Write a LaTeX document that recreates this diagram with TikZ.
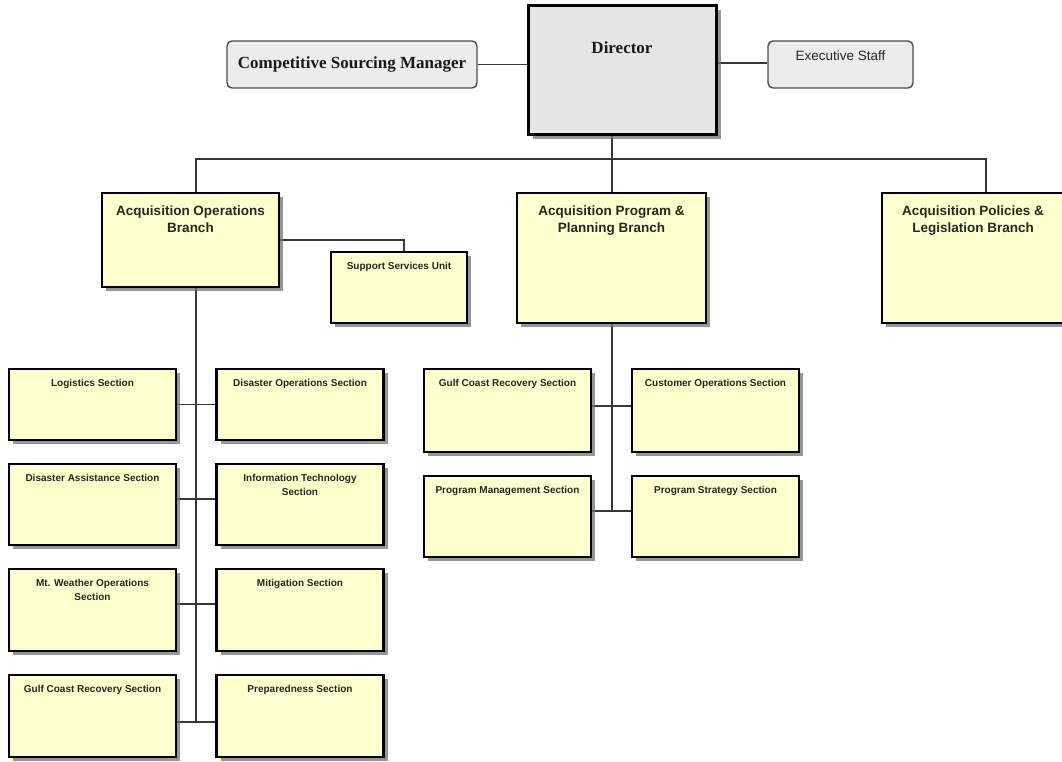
\documentclass[tikz,border=0pt]{standalone}
\usepackage{fontspec}
\newfontfamily\arialfont{Liberation Sans}
\newfontfamily\timesfont{Liberation Serif}
\usetikzlibrary{shadows,backgrounds}
\definecolor{boxyellow}{RGB}{255,255,206}
\definecolor{boxgrey}{RGB}{236,236,236}
\definecolor{dirgrey}{RGB}{230,230,230}
\definecolor{linegrey}{RGB}{55,55,55}
\tikzset{
  ybox/.style={draw=black, line width=2.6pt, fill=boxyellow, rectangle, inner sep=0pt,
    drop shadow={shadow xshift=4pt, shadow yshift=-4pt, fill=black!55, opacity=0.75}},
  dbox/.style={draw=black, line width=3pt, fill=dirgrey, rectangle, inner sep=0pt,
    drop shadow={shadow xshift=5pt, shadow yshift=-5pt, fill=black!55, opacity=0.75}},
  gbox/.style={draw=black!70, line width=1.4pt, fill=boxgrey, rounded corners=5pt, inner sep=0pt},
  conn/.style={draw=linegrey, line width=1.3pt},
  sect/.style={font=\arialfont\bfseries\fontsize{10}{14.5}\selectfont, align=center, anchor=north, inner sep=0pt, text=black!85, yshift=-11pt},
  brch/.style={font=\arialfont\bfseries\fontsize{13.5}{17}\selectfont, align=center, anchor=north, inner sep=0pt, text=black!85, yshift=-14pt},
  sbox/.style={ybox, minimum width=167pt},
}
\begin{document}
\begin{tikzpicture}[x=1pt,y=-1pt]
\useasboundingbox (0,0) rectangle (1062,761);

% top level
\node[dbox, minimum width=188pt, minimum height=129pt,
  label={[font=\timesfont\bfseries\fontsize{17}{20}\selectfont, anchor=north, inner sep=0pt, yshift=-38pt, text=black!90]north:Director}] (dir) at (622,69.5) {};
\node[gbox, minimum width=250pt, minimum height=47pt, text=black!90,
  font=\timesfont\bfseries\fontsize{17}{20}\selectfont] (csm) at (352,64.5) {Competitive Sourcing Manager};
\node[gbox, minimum width=145pt, minimum height=47pt,
  label={[font=\arialfont\fontsize{13.5}{16}\selectfont, anchor=north, inner sep=0pt, yshift=-10pt, text=black!85]north:Executive Staff}] (es) at (840.5,64.5) {};

% branches
\node[ybox, minimum width=177pt, minimum height=94pt,
  label={[brch]north:{Acquisition Operations\\Branch}}] (aob) at (190.5,240) {};
\node[ybox, minimum width=136pt, minimum height=71pt,
  label={[sect]north:Support Services Unit}] (ssu) at (399,287.5) {};
\node[ybox, minimum width=189pt, minimum height=130pt,
  label={[brch]north:{Acquisition Program \&\\Planning Branch}}] (appb) at (611.5,258) {};
\node[ybox, minimum width=182pt, minimum height=130pt,
  label={[brch]north:{Acquisition Policies \&\\Legislation Branch}}] (aplb) at (973,258) {};

% left sections
\node[sbox, minimum height=71pt, label={[sect]north:Logistics Section}] (log) at (92.5,404.5) {};
\node[sbox, minimum height=71pt, label={[sect]north:Disaster Operations Section}] (dops) at (300,404.5) {};
\node[sbox, minimum height=81pt, label={[sect]north:Disaster Assistance Section}] (da) at (92.5,504.5) {};
\node[sbox, minimum height=81pt, label={[sect]north:{Information Technology\\Section}}] (it) at (300,504.5) {};
\node[sbox, minimum height=82pt, label={[sect]north:{Mt. Weather Operations\\Section}}] (mtw) at (92.5,610) {};
\node[sbox, minimum height=82pt, label={[sect]north:Mitigation Section}] (mit) at (300,610) {};
\node[sbox, minimum height=82pt, label={[sect]north:Gulf Coast Recovery Section}] (gcra) at (92.5,716) {};
\node[sbox, minimum height=82pt, label={[sect]north:Preparedness Section}] (prep) at (300,716) {};

% middle sections
\node[sbox, minimum height=83pt, label={[sect]north:Gulf Coast Recovery Section}] (gcrb) at (507.5,410.5) {};
\node[sbox, minimum height=83pt, label={[sect]north:Customer Operations Section}] (cust) at (715.5,410.5) {};
\node[sbox, minimum height=81pt, label={[sect]north:Program Management Section}] (pm) at (507.5,516.5) {};
\node[sbox, minimum height=81pt, label={[sect]north:Program Strategy Section}] (ps) at (715.5,516.5) {};

% connectors
\coordinate (busL) at (196,159);
\coordinate (busR) at (986,159);
\coordinate (busM) at (612,159);
\coordinate (ssuj) at (404,240);
\coordinate (lt) at (196,722);
\coordinate (mt) at (612,511);
\begin{scope}[on background layer]
\draw[conn] (csm.east) -- (dir.west |- csm.east);
\draw[conn] ([yshift=1.5pt]es.west) -- ([yshift=1.5pt]dir.east |- es.west);
\draw[conn] (busL |- aob.north) -- (busL) -- (busR) -- (busR |- aplb.north);
\draw[conn] (dir.south -| busM) -- (appb.north -| busM);
\draw[conn] (aob.east) -- (ssuj) -- (ssuj |- ssu.north);
\draw[conn] (aob.south -| lt) -- (lt);
\draw[conn] (log.east) -- (dops.west);
\draw[conn] ([yshift=5.5pt]da.east) -- ([yshift=5.5pt]it.west);
\draw[conn] ([yshift=6pt]mtw.east) -- ([yshift=6pt]mit.west);
\draw[conn] ([yshift=-6pt]gcra.east) -- ([yshift=-6pt]prep.west);
\draw[conn] (appb.south -| mt) -- (mt);
\draw[conn] ([yshift=4.5pt]gcrb.east) -- ([yshift=4.5pt]cust.west);
\draw[conn] ([yshift=5.5pt]pm.east) -- ([yshift=5.5pt]ps.west);
\end{scope}
\end{tikzpicture}
\end{document}
